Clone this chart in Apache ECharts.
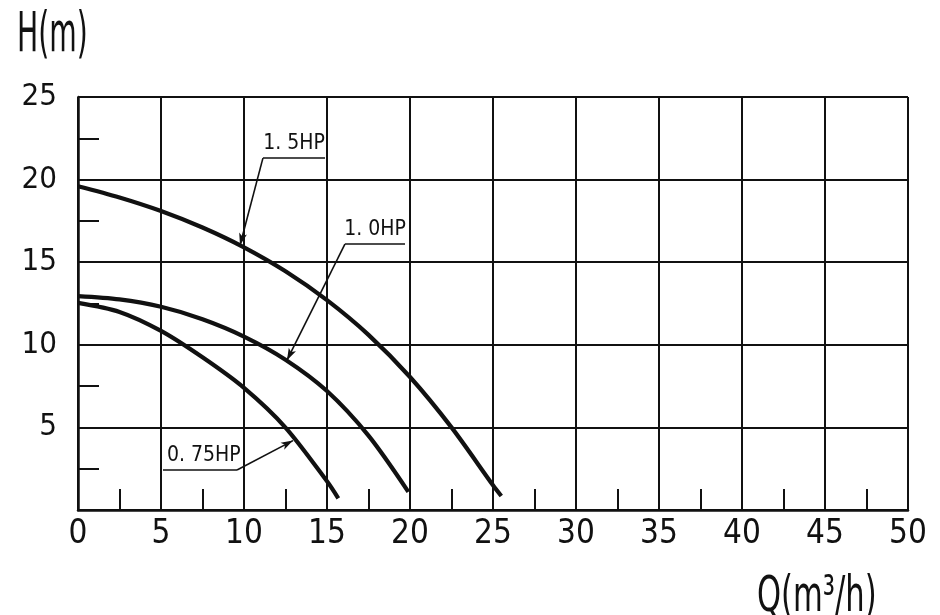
<!DOCTYPE html>
<html>
<head>
<meta charset="utf-8">
<script src="https://cdn.jsdelivr.net/npm/echarts@6/dist/echarts.min.js"></script>
<style>
html,body{margin:0;padding:0;background:#fff;}
#chart{width:940px;height:615px;}
</style>
</head>
<body>
<div id="chart"></div>
<script>
// Pump curves: flow Q (m3/h) vs head H (m)
var xTicks = [0, 5, 10, 15, 20, 25, 30, 35, 40, 45, 50];
var yTicks = [0, 5, 10, 15, 20, 25];

var curve15HP  = [[0,19.6],[2.5,18.92],[5,18.1],[7.5,17.1],[10,15.9],[12.5,14.45],[15,12.7],[17.5,10.6],[20,8.05],[22.5,5.0],[25,1.5],[25.5,0.85]];
var curve10HP  = [[0,12.95],[2.5,12.75],[5,12.3],[7.5,11.55],[10,10.5],[12.5,9.1],[15,7.2],[17.5,4.5],[19.9,1.1]];
var curve075HP = [[0,12.54],[2.5,11.99],[5,10.84],[7.5,9.24],[10,7.39],[12.5,4.99],[15,1.74],[15.68,0.71]];

var seriesNames = ['1. 5HP', '1. 0HP', '0. 75HP'];
// annotation leaders: underline start, underline end, arrow target (data coords)
var lead15HP  = {a:[11.14,21.3], b:[14.88,21.3], t:[9.76,16.03]};
var lead10HP  = {a:[16.08,16.09], b:[19.70,16.09], t:[12.59,9.07]};
var lead075HP = {a:[5.12,2.42], b:[9.58,2.42], t:[12.95,4.2]};

var NARROW = '"Liberation Sans Narrow","Arial Narrow","DejaVu Sans Condensed",sans-serif';
var INK = '#111';

function leaderMark(lead, name, labelPos) {
  return {
    silent: true,
    animation: false,
    lineStyle: {color: INK, width: 1.6, type: 'solid'},
    data: [
      [
        {coord: lead.a, symbol: 'none', label: {show: true, formatter: name, position: labelPos, distance: 4,
          color: INK, fontFamily: NARROW, fontSize: 21}},
        {coord: lead.b, symbol: 'none'}
      ],
      [
        {coord: (labelPos === 'insideStartTop' ? lead.b : lead.a), symbol: 'none', label: {show: false}},
        {coord: lead.t, symbol: 'arrow', symbolSize: [6, 12]}
      ]
    ]
  };
}

var chart = echarts.init(document.getElementById('chart'), null, {renderer: 'canvas'});
chart.setOption({
  backgroundColor: '#fff',
  animation: false,
  grid: {left: 78, right: 32, top: 97, bottom: 105, containLabel: false},
  xAxis: {
    type: 'value', min: xTicks[0], max: xTicks[xTicks.length - 1], interval: 5,
    axisLine: {show: true, onZero: false, lineStyle: {color: INK, width: 2.5}},
    axisTick: {show: false, inside: true},
    minorTick: {show: true, splitNumber: 2, length: 21, lineStyle: {color: INK, width: 2}},
    splitLine: {show: true, lineStyle: {color: INK, width: 2}},
    axisLabel: {color: INK, fontFamily: NARROW, fontSize: 33, margin: 8}
  },
  yAxis: {
    type: 'value', min: yTicks[0], max: yTicks[yTicks.length - 1], interval: 5,
    axisLine: {show: true, onZero: false, lineStyle: {color: INK, width: 2.5}},
    axisTick: {show: false, inside: true},
    minorTick: {show: true, splitNumber: 2, length: 21, lineStyle: {color: INK, width: 2}},
    splitLine: {show: true, lineStyle: {color: INK, width: 2}},
    axisLabel: {color: INK, fontFamily: NARROW, fontSize: 31, margin: 21,
      formatter: function (v) { return v === 0 ? '' : String(v); }}
  },
  graphic: [
    {type: 'text', x: 17, y: 8, scaleX: 0.56, style: {text: 'H(m)', font: '56px ' + NARROW, fill: INK, verticalAlign: 'top'}},
    {type: 'text', x: 757, y: 573, scaleX: 0.68, style: {text: 'Q(m³/h)', font: '50px ' + NARROW, fill: INK, verticalAlign: 'top'}}
  ],
  series: [
    {name: seriesNames[0], type: 'line', data: curve15HP, smooth: 0.3, showSymbol: false,
      lineStyle: {color: INK, width: 4.2}, markLine: leaderMark(lead15HP, seriesNames[0], 'insideMiddleTop')},
    {name: seriesNames[1], type: 'line', data: curve10HP, smooth: 0.3, showSymbol: false,
      lineStyle: {color: INK, width: 4.2}, markLine: leaderMark(lead10HP, seriesNames[1], 'insideMiddleTop')},
    {name: seriesNames[2], type: 'line', data: curve075HP, smooth: 0.3, showSymbol: false,
      lineStyle: {color: INK, width: 4.2}, markLine: leaderMark(lead075HP, seriesNames[2], 'insideStartTop')}
  ]
});
</script>
</body>
</html>
